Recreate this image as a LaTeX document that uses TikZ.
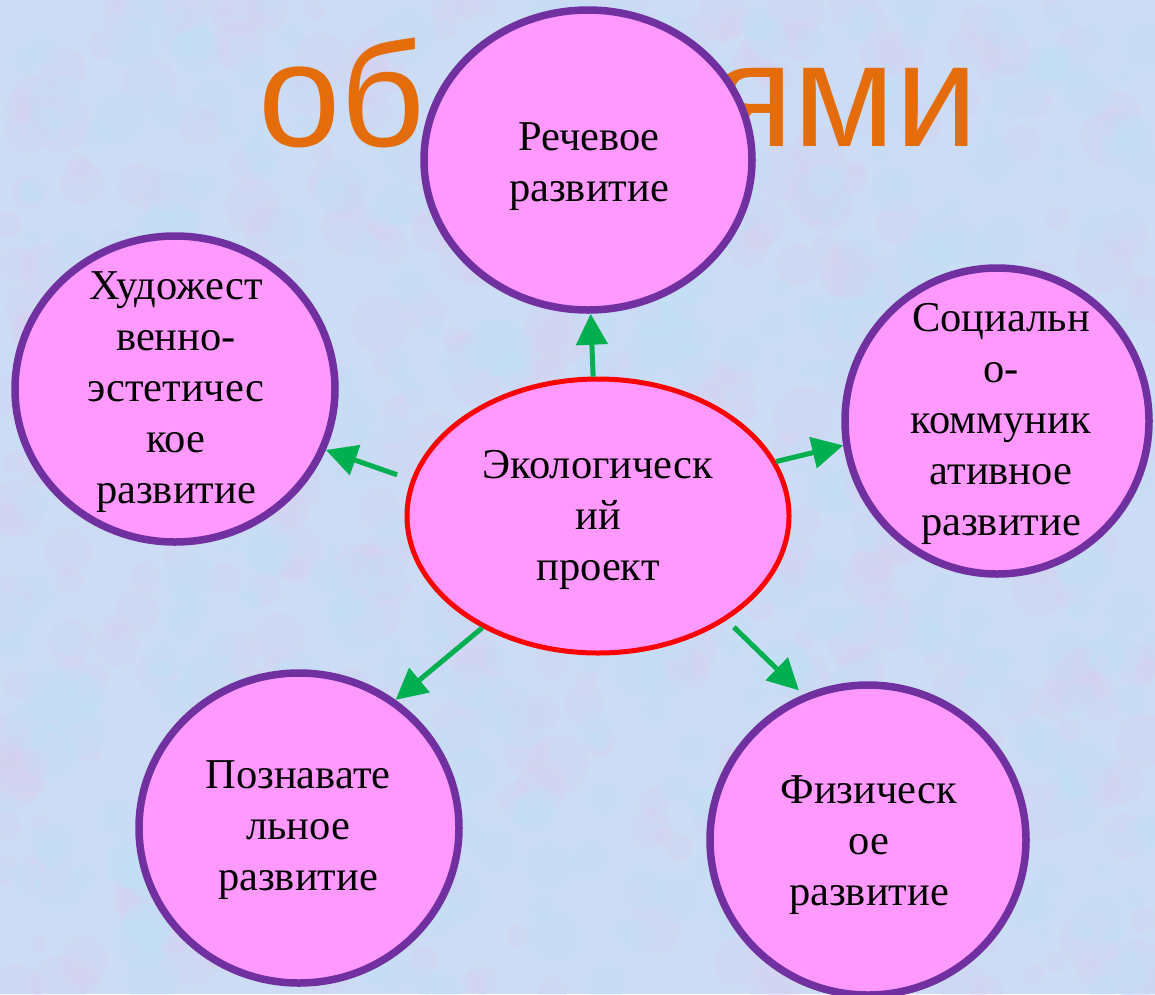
\documentclass[tikz,border=0pt]{standalone}
\usepackage{fontspec}
\setmainfont{Liberation Serif}
\newfontfamily\titlefont{Liberation Sans}
\usetikzlibrary{shapes.geometric,arrows.meta}
\definecolor{bgblue}{RGB}{204,220,244}
\definecolor{bglav}{RGB}{220,206,240}
\definecolor{bgsky}{RGB}{188,228,248}
\definecolor{titleorange}{RGB}{228,108,10}
\definecolor{bubblefill}{RGB}{255,153,255}
\definecolor{bubbleborder}{RGB}{112,48,160}
\definecolor{arrowgreen}{RGB}{0,176,80}
\begin{document}
\begin{tikzpicture}[x=1pt,y=-1pt,
  bubble/.style={ellipse, draw=bubbleborder, line width=7.5pt, fill=bubblefill, inner sep=0pt},
  hub/.style={ellipse, draw=red, line width=5pt, fill=bubblefill, inner sep=0pt},
  lbl/.style={align=center, font=\fontsize{42.5}{51}\selectfont, inner sep=0pt},
  ttl/.style={inner sep=0pt, text=titleorange, font=\titlefont\fontsize{148}{148}\selectfont},
  link/.style={draw=arrowgreen, line width=5pt, -{Triangle[length=31pt,width=31pt]}}]
\useasboundingbox (0,0) rectangle (1155,994);
% background
\fill[bgblue] (0,0) rectangle (1155,994);
\begin{scope}
\clip (0,0) rectangle (1155,994);
\pgfmathsetseed{11}
\foreach \i in {1,...,500}{
  \pgfmathsetmacro{\px}{rnd*1155}
  \pgfmathsetmacro{\py}{rnd*994}
  \pgfmathsetmacro{\pr}{8+rnd*22}
  \fill[bglav, opacity=0.22] (\px,\py) circle (\pr);
}
\foreach \i in {1,...,500}{
  \pgfmathsetmacro{\px}{rnd*1155}
  \pgfmathsetmacro{\py}{rnd*994}
  \pgfmathsetmacro{\pr}{8+rnd*22}
  \fill[bgsky, opacity=0.22] (\px,\py) circle (\pr);
}
\end{scope}
% title (partly hidden behind the top bubble)
\node[ttl, anchor=base west] (titleA) at (258,146) {об};
\node[ttl, anchor=base east] (titleB) at (978,146) {ями};
% bubbles
\node[bubble, minimum width=328pt, minimum height=300pt] (rech) at (588,160) {};
\node[bubble, minimum width=320pt, minimum height=306pt] (hud) at (175,389) {};
\node[bubble, minimum width=304pt, minimum height=306pt] (soc) at (997,421) {};
\node[bubble, minimum width=320pt, minimum height=310pt] (pozn) at (299,828) {};
\node[bubble, minimum width=316pt, minimum height=310pt] (fiz) at (868,840) {};
\node[hub, minimum width=382pt, minimum height=274pt] (eco) at (598,516) {};
% labels
\node[lbl] (rechT) at (589,167) {Речевое\\развитие};
\node[lbl] (hudT) at (176,392) {Художест\\венно-\\эстетичес\\кое\\развитие};
\node[lbl] (socT) at (1001,424) {Социальн\\о-\\коммуник\\ативное\\развитие};
\node[lbl] (poznT) at (298,830) {Познавате\\льное\\развитие};
\node[lbl] (fizT) at (869,845) {Физическ\\ое\\развитие};
\node[lbl] (ecoT) at (598,520) {Экологическ\\ий\\проект};
% arrows
\draw[link] (eco.92) -- (rech.271);
\draw[link, shorten <=15pt] (eco.169) -- (hud.338);
\draw[link] (eco.17) -- (soc.189);
\draw[link] (eco.224) -- (pozn.53);
\draw[link, shorten <=10pt, shorten >=6pt] (eco.321) -- (fiz.114);
\end{tikzpicture}
\end{document}
